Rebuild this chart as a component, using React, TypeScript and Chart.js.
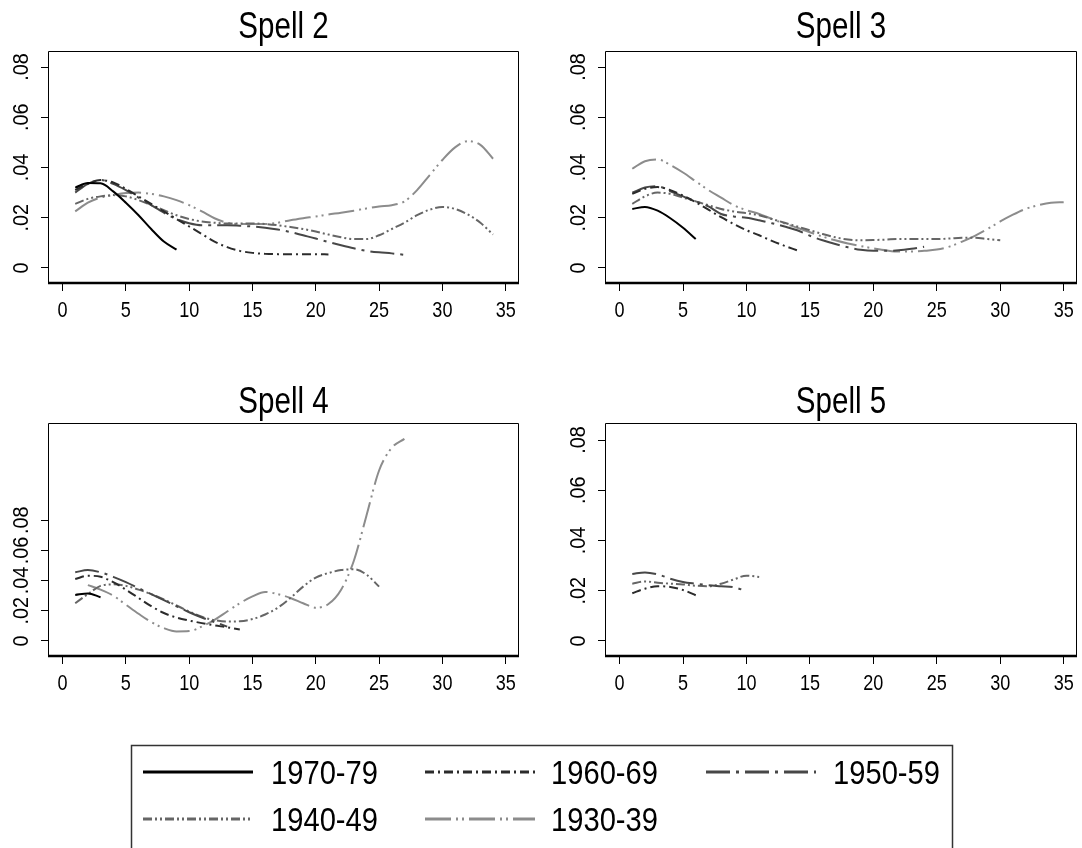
import React, { useEffect, useRef } from "react";
import { Chart, registerables } from "chart.js";

Chart.register(...registerables);

const FONT = "'Liberation Sans', Arial, sans-serif";
const NARROW = 0.82; // horizontal condensing to mimic a narrow face

// ---- categories / styles ----
const cohorts = ["1970-79", "1960-69", "1950-59", "1940-49", "1930-39"];
const cohortColors = ["#000000", "#2b2b2b", "#474747", "#666666", "#8c8c8c"];
const cohortDashes: number[][] = [[], [9, 4, 2, 4], [24, 6, 3, 6], [9, 3, 2, 3, 2, 3], [26, 5, 2, 4, 2, 5]];

// ---- tick labels ----
const xTicks = [0, 5, 10, 15, 20, 25, 30, 35];
const xTickLabels = ["0", "5", "10", "15", "20", "25", "30", "35"];
const yTicks = [0, 0.02, 0.04, 0.06, 0.08];
const yTickLabels = ["0", ".02", ".04", ".06", ".08"];

// ---- series values (x = start, start+1, ...) ----
// Spell 2
const s2_1970 = [0.032, 0.0338, 0.0337, 0.0305, 0.026, 0.021, 0.0155, 0.0105, 0.0073];
const s2_1960 = [0.031, 0.0335, 0.035, 0.034, 0.0315, 0.0285, 0.0255, 0.0225, 0.0195, 0.0165, 0.0135, 0.0105, 0.0083, 0.0068, 0.006, 0.0056, 0.0055, 0.0055, 0.0055, 0.0055, 0.0054];
const s2_1950 = [0.03, 0.0335, 0.035, 0.0335, 0.031, 0.028, 0.025, 0.022, 0.0195, 0.0178, 0.017, 0.017, 0.017, 0.0168, 0.0165, 0.016, 0.0153, 0.0143, 0.013, 0.0117, 0.0103, 0.009, 0.0078, 0.0068, 0.0062, 0.0058, 0.0052];
const s2_1940 = [0.0255, 0.0275, 0.0285, 0.029, 0.0285, 0.027, 0.025, 0.023, 0.021, 0.0195, 0.0185, 0.018, 0.0177, 0.0177, 0.0177, 0.0175, 0.017, 0.0163, 0.0155, 0.0145, 0.0133, 0.0122, 0.0115, 0.0115, 0.013, 0.0155, 0.018, 0.021, 0.0232, 0.0243, 0.0235, 0.0213, 0.018, 0.0133];
const s2_1930 = [0.0225, 0.026, 0.028, 0.029, 0.0298, 0.03, 0.0295, 0.0285, 0.027, 0.025, 0.0225, 0.0198, 0.018, 0.0175, 0.0175, 0.0175, 0.018, 0.019, 0.0198, 0.0205, 0.0213, 0.022, 0.0228, 0.0237, 0.0245, 0.025, 0.0265, 0.031, 0.037, 0.043, 0.048, 0.0505, 0.049, 0.0435];
// Spell 3
const s3_1970 = [0.0235, 0.0243, 0.0228, 0.0198, 0.016, 0.0115];
const s3_1960 = [0.0295, 0.0315, 0.0322, 0.031, 0.0288, 0.0262, 0.0232, 0.0202, 0.0175, 0.015, 0.013, 0.0108, 0.0088, 0.007];
const s3_1950 = [0.03, 0.032, 0.0325, 0.0305, 0.0285, 0.0265, 0.0245, 0.0215, 0.0205, 0.02, 0.019, 0.0178, 0.0165, 0.015, 0.0128, 0.011, 0.0095, 0.0082, 0.0072, 0.0068, 0.0068, 0.007, 0.0076, 0.0084];
const s3_1940 = [0.0255, 0.0285, 0.03, 0.0295, 0.028, 0.0265, 0.025, 0.0235, 0.0225, 0.0218, 0.021, 0.0195, 0.018, 0.0165, 0.015, 0.0135, 0.0122, 0.0113, 0.011, 0.0111, 0.0113, 0.0115, 0.0115, 0.0115, 0.0115, 0.0117, 0.012, 0.012, 0.0115, 0.011];
const s3_1930 = [0.0395, 0.0425, 0.0432, 0.041, 0.038, 0.0345, 0.031, 0.028, 0.025, 0.023, 0.0215, 0.0195, 0.0177, 0.016, 0.0142, 0.0125, 0.011, 0.0097, 0.0087, 0.0078, 0.007, 0.0065, 0.0065, 0.0068, 0.0073, 0.0085, 0.0105, 0.0128, 0.0155, 0.0185, 0.0212, 0.0235, 0.025, 0.026, 0.0262];
// Spell 4
const s4_1970 = [0.0305, 0.0315, 0.029];
const s4_1960 = [0.041, 0.0432, 0.0425, 0.039, 0.034, 0.0285, 0.023, 0.0185, 0.0155, 0.0135, 0.0118, 0.0103, 0.009, 0.0075];
const s4_1950 = [0.0455, 0.047, 0.0455, 0.0425, 0.039, 0.035, 0.031, 0.027, 0.023, 0.019, 0.0155, 0.0125, 0.0095];
const s4_1940 = [0.025, 0.031, 0.0365, 0.0375, 0.0365, 0.034, 0.031, 0.0275, 0.0235, 0.0195, 0.016, 0.0138, 0.0128, 0.013, 0.0145, 0.0175, 0.022, 0.0285, 0.036, 0.042, 0.045, 0.047, 0.0475, 0.044, 0.036];
const s4_1930 = [0.037, 0.034, 0.03, 0.024, 0.018, 0.0125, 0.0085, 0.0063, 0.0065, 0.0095, 0.014, 0.0195, 0.025, 0.0295, 0.0325, 0.031, 0.0285, 0.025, 0.022, 0.0245, 0.034, 0.053, 0.083, 0.113, 0.128, 0.134];
// Spell 5
const s5_1960 = [0.019, 0.0208, 0.0218, 0.0215, 0.0203, 0.0182];
const s5_1950 = [0.0267, 0.0273, 0.0265, 0.0248, 0.0235, 0.0228, 0.0222, 0.0218, 0.0214, 0.0198];
const s5_1940 = [0.0228, 0.0237, 0.0232, 0.0228, 0.0225, 0.022, 0.0218, 0.0228, 0.0245, 0.026, 0.0255];

type Series = { values: number[]; start: number } | null;

const panels = [
  {
    title: "Spell 2", left: 0, top: 0, yw: 48, pr: 22, pt: 51, xh: 87, titleY: 38,
    yMin: -0.006, yMax: 0.0864,
    series: [
      { values: s2_1970, start: 1 }, { values: s2_1960, start: 1 }, { values: s2_1950, start: 1 },
      { values: s2_1940, start: 1 }, { values: s2_1930, start: 1 },
    ] as Series[],
  },
  {
    title: "Spell 3", left: 541, top: 0, yw: 64, pr: 5, pt: 51, xh: 87, titleY: 38,
    yMin: -0.006, yMax: 0.0864,
    series: [
      { values: s3_1970, start: 1 }, { values: s3_1960, start: 1 }, { values: s3_1950, start: 1 },
      { values: s3_1940, start: 1 }, { values: s3_1930, start: 1 },
    ] as Series[],
  },
  {
    title: "Spell 4", left: 0, top: 370, yw: 48, pr: 22, pt: 53, xh: 84, titleY: 43,
    yMin: -0.01, yMax: 0.1445,
    series: [
      { values: s4_1970, start: 1 }, { values: s4_1960, start: 1 }, { values: s4_1950, start: 1 },
      { values: s4_1940, start: 1 }, { values: s4_1930, start: 2 },
    ] as Series[],
  },
  {
    title: "Spell 5", left: 541, top: 370, yw: 64, pr: 5, pt: 53, xh: 84, titleY: 43,
    yMin: -0.006, yMax: 0.0868,
    series: [
      null, { values: s5_1960, start: 1 }, { values: s5_1950, start: 1 },
      { values: s5_1940, start: 1 }, null,
    ] as Series[],
  },
];

const CW = 541;
const CH = 370;

function narrowText(ctx: CanvasRenderingContext2D, text: string, x: number, y: number, rot: number, sx: number) {
  ctx.save();
  ctx.translate(x, y);
  if (rot) ctx.rotate(rot);
  ctx.scale(sx, 1);
  ctx.fillText(text, 0, 0);
  ctx.restore();
}

function makeFramePlugin(title: string, titleY: number) {
  return {
    id: "stataFrame",
    afterDraw(chart: any) {
      const { ctx, chartArea } = chart;
      const { left, right, top, bottom } = chartArea;
      ctx.save();
      ctx.strokeStyle = "#000";
      ctx.lineWidth = 1;
      ctx.beginPath();
      ctx.moveTo(left + 0.5, bottom);
      ctx.lineTo(left + 0.5, top + 0.5);
      ctx.lineTo(right - 0.5, top + 0.5);
      ctx.lineTo(right - 0.5, bottom);
      ctx.stroke();
      ctx.lineWidth = 2.5;
      ctx.beginPath();
      ctx.moveTo(left, bottom);
      ctx.lineTo(right, bottom);
      ctx.stroke();
      ctx.fillStyle = "#000";
      ctx.font = `22px ${FONT}`;
      ctx.textAlign = "center";
      ctx.textBaseline = "middle";
      // rotated y tick labels
      const ys = chart.scales.y;
      yTicks.forEach((v, i) => {
        narrowText(ctx, yTickLabels[i], left - 26, ys.getPixelForValue(v), -Math.PI / 2, 0.9);
      });
      // x tick labels
      const xs = chart.scales.x;
      xTicks.forEach((v, i) => {
        narrowText(ctx, xTickLabels[i], xs.getPixelForValue(v), bottom + 28, 0, NARROW);
      });
      // title
      ctx.font = `36px ${FONT}`;
      ctx.textBaseline = "alphabetic";
      narrowText(ctx, title, (left + right) / 2, titleY, 0, NARROW);
      ctx.restore();
    },
  };
}

function Panel({ p }: { p: (typeof panels)[number] }) {
  const ref = useRef<HTMLCanvasElement | null>(null);
  useEffect(() => {
    if (!ref.current) return;
    const datasets = cohorts
      .map((c, i) => {
        const s = p.series[i];
        if (!s) return null;
        return {
          label: c,
          data: s.values.map((v, j) => ({ x: s.start + j, y: v })),
          borderColor: cohortColors[i],
          borderDash: cohortDashes[i],
          borderWidth: 2,
          pointRadius: 0,
          fill: false,
          tension: 0.4,
          cubicInterpolationMode: "monotone" as const,
        };
      })
      .filter(Boolean) as any[];
    const chart = new Chart(ref.current, {
      type: "line",
      data: { datasets },
      options: {
        animation: false,
        responsive: false,
        events: [],
        layout: { padding: { left: 0, right: p.pr, top: p.pt, bottom: 0 } },
        plugins: { legend: { display: false }, tooltip: { enabled: false }, title: { display: false } },
        scales: {
          x: {
            type: "linear",
            min: -1.15,
            max: 36.05,
            afterBuildTicks: (s: any) => {
              s.ticks = xTicks.map((v) => ({ value: v }));
            },
            afterFit: (s: any) => {
              s.height = p.xh;
            },
            ticks: { display: false },
            grid: { drawOnChartArea: false, drawTicks: true, tickLength: 8, color: "#000", lineWidth: 1 },
            border: { display: false },
          },
          y: {
            type: "linear",
            min: p.yMin,
            max: p.yMax,
            afterBuildTicks: (s: any) => {
              s.ticks = yTicks.map((v) => ({ value: v }));
            },
            afterFit: (s: any) => {
              s.width = p.yw;
            },
            ticks: { display: false },
            grid: { drawOnChartArea: false, drawTicks: true, tickLength: 7, color: "#000", lineWidth: 1 },
            border: { display: false },
          },
        },
      },
      plugins: [makeFramePlugin(p.title, p.titleY)],
    });
    return () => chart.destroy();
  }, [p]);
  return (
    <div style={{ position: "absolute", left: p.left, top: p.top, width: CW, height: CH }}>
      <canvas ref={ref} width={CW} height={CH} style={{ width: CW, height: CH, display: "block" }} />
    </div>
  );
}

const legendLayout = [
  { lx: 143, tx: 271, y: 772 },
  { lx: 425, tx: 551, y: 772 },
  { lx: 706, tx: 833, y: 772 },
  { lx: 143, tx: 271, y: 819 },
  { lx: 425, tx: 551, y: 819 },
];

function Legend() {
  return (
    <svg width={1082} height={848} style={{ position: "absolute", left: 0, top: 0 }}>
      <rect x={131.5} y={745.5} width={821} height={160} fill="none" stroke="#333" strokeWidth={1.5} />
      {cohorts.map((c, i) => {
        const L = legendLayout[i];
        return (
          <g key={c}>
            <line
              x1={L.lx}
              x2={L.lx + 110}
              y1={L.y}
              y2={L.y}
              stroke={cohortColors[i]}
              strokeWidth={3}
              strokeDasharray={cohortDashes[i].length ? cohortDashes[i].join(" ") : undefined}
            />
            <text
              x={L.tx}
              y={L.y + 12}
              fontFamily={FONT}
              fontSize={34}
              fill="#000"
              textLength={107}
              lengthAdjust="spacingAndGlyphs"
            >
              {c}
            </text>
          </g>
        );
      })}
    </svg>
  );
}

export default function App() {
  return (
    <div
      style={{
        position: "absolute",
        left: 0,
        top: 0,
        width: 1082,
        height: 848,
        overflow: "hidden",
        background: "#fff",
      }}
    >
      {panels.map((p) => (
        <Panel key={p.title} p={p} />
      ))}
      <Legend />
    </div>
  );
}
